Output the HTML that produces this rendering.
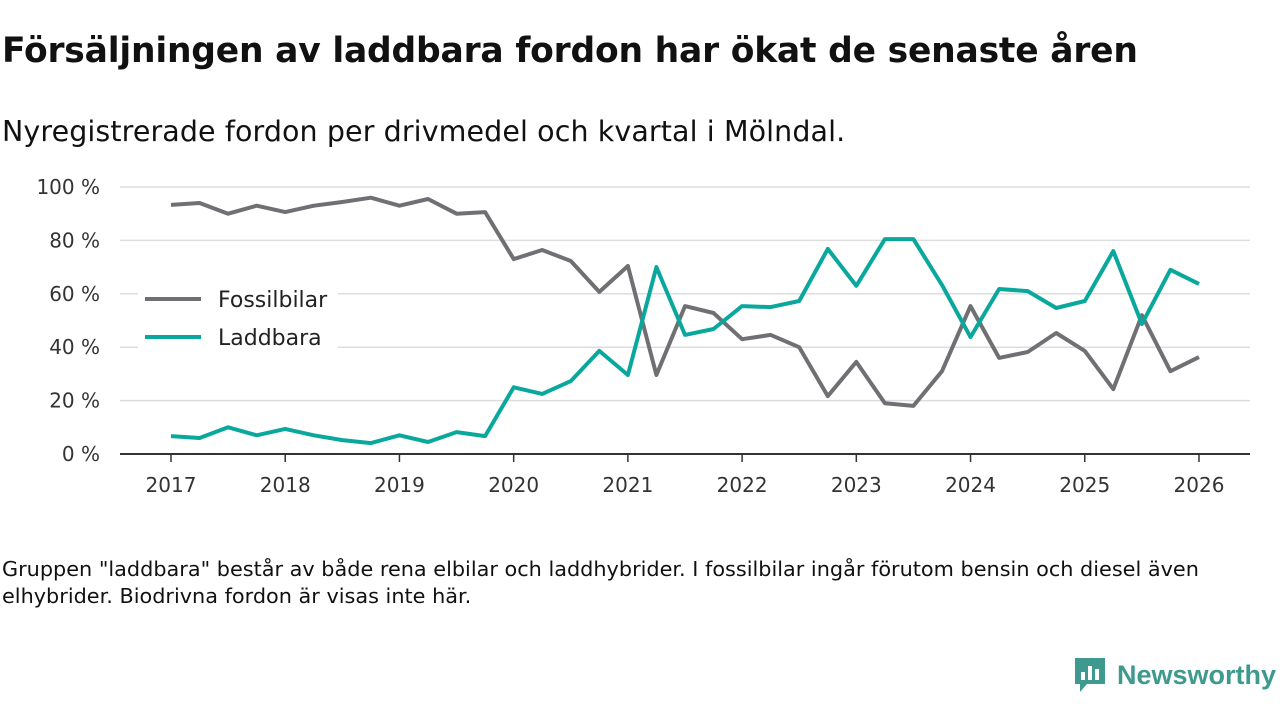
<!DOCTYPE html>
<html><head><meta charset="utf-8"><style>
body{margin:0;width:1280px;height:720px;background:#fff;font-family:"Liberation Sans","DejaVu Sans",sans-serif;overflow:hidden;position:relative;color:#111}
#title{position:absolute;left:2px;top:31px;font-size:34.5px;font-weight:bold;font-family:"DejaVu Sans","Liberation Sans",sans-serif;letter-spacing:-0.2px}
#sub{position:absolute;left:2px;top:115px;font-size:28.5px;font-family:"DejaVu Sans","Liberation Sans",sans-serif;letter-spacing:0.1px}
#foot{position:absolute;left:2px;top:556px;font-size:20.8px;line-height:27px;font-family:"DejaVu Sans","Liberation Sans",sans-serif;width:1240px}
#logo{position:absolute;left:1073px;top:656px;display:flex;align-items:center;gap:10px;color:#3e9a8f;font-size:27px;font-weight:bold;font-family:"Liberation Sans",sans-serif}
svg{position:absolute;left:0;top:0}
</style></head><body>
<div id="title">Försäljningen av laddbara fordon har ökat de senaste åren</div>
<div id="sub">Nyregistrerade fordon per drivmedel och kvartal i Mölndal.</div>
<svg id="chart" width="1280" height="720"></svg>
<div id="foot">Gruppen "laddbara" består av både rena elbilar och laddhybrider. I fossilbilar ingår förutom bensin och diesel även elhybrider. Biodrivna fordon är visas inte här.</div>
<div id="logo"><svg width="34" height="38" style="position:static"><path d="M2 2h30v26H14l-7 8v-8H2z" fill="#3e9a8f"/><rect x="8" y="16" width="4" height="8" fill="#fff"/><rect x="15" y="10" width="4" height="14" fill="#fff"/><rect x="22" y="13" width="4" height="11" fill="#fff"/></svg><span>Newsworthy</span></div>
<script>
const fossil=[93.3,94,90,93,90.6,93,94.4,96,93,95.5,90,90.6,73,76.4,72.3,60.7,70.4,29.6,55.4,52.8,43,44.6,40,21.7,34.5,19,18,31,55.4,36,38.2,45.3,38.6,24.3,52,31,36.3];
const laddbara=[6.7,6,10,7,9.4,7,5.2,4.1,7,4.5,8.2,6.7,25,22.5,27.3,38.6,29.6,70,44.6,46.8,55.4,55,57.3,76.8,63,80.5,80.5,63.3,43.8,61.8,61,54.7,57.3,76,48.7,69,63.7];
const yTicks=[0,20,40,60,80,100];
const xTicks=[2017,2018,2019,2020,2021,2022,2023,2024,2025,2026];
const startYear=2017;
const NS="http://www.w3.org/2000/svg";
const svg=document.getElementById('chart');
const X=t=>171+(t-2017)*114.22;
const Y=v=>454-v*2.67;
function mk(tag,attrs){const e=document.createElementNS(NS,tag);for(const k in attrs)e.setAttribute(k,attrs[k]);svg.appendChild(e);return e;}
yTicks.forEach(v=>{
  const l=mk('line',{x1:120,x2:1250,y1:Y(v),y2:Y(v),stroke:v===0?'#333':'#ddd','stroke-width':v===0?2:1.5});
  
  
  const t=mk('text',{x:100,y:Y(v)+7,'text-anchor':'end','font-size':20,fill:'#333','font-family':'DejaVu Sans, sans-serif'});
  t.textContent=v+' %';
  
  
});
xTicks.forEach(y=>{
  const l=mk('line',{x1:X(y),x2:X(y),y1:454,y2:462,stroke:'#333','stroke-width':1.5});
  
  
  const t=mk('text',{x:X(y),y:492,'text-anchor':'middle','font-size':20,fill:'#333','font-family':'DejaVu Sans, sans-serif'});
  t.textContent=y;
  
  
});
function series(arr,color,name){
  const d=arr.map((v,i)=>(i?'L':'M')+X(startYear+i/4).toFixed(1)+','+Y(v).toFixed(1)).join(' ');
  const p=mk('path',{d:d,fill:'none',stroke:color,'stroke-width':4,'stroke-linejoin':'round'});
  
  
}
series(fossil,'#707074','line-fossilbilar');
series(laddbara,'#0aa89c','line-laddbara');
[['Fossilbilar','#707074',299],['Laddbara','#0aa89c',337]].forEach(([n,c,y])=>{
  const bg=mk('rect',{x:138,y:y-20,width:200,height:38,fill:'#fff'});
  
  
  const l=mk('line',{x1:145,x2:201,y1:y,y2:y,stroke:c,'stroke-width':4});
  
  
  const t=mk('text',{x:218,y:y+8,'font-size':22,fill:'#222','font-family':'DejaVu Sans, sans-serif'});
  t.textContent=n;
  
  
});
</script>
</body></html>
